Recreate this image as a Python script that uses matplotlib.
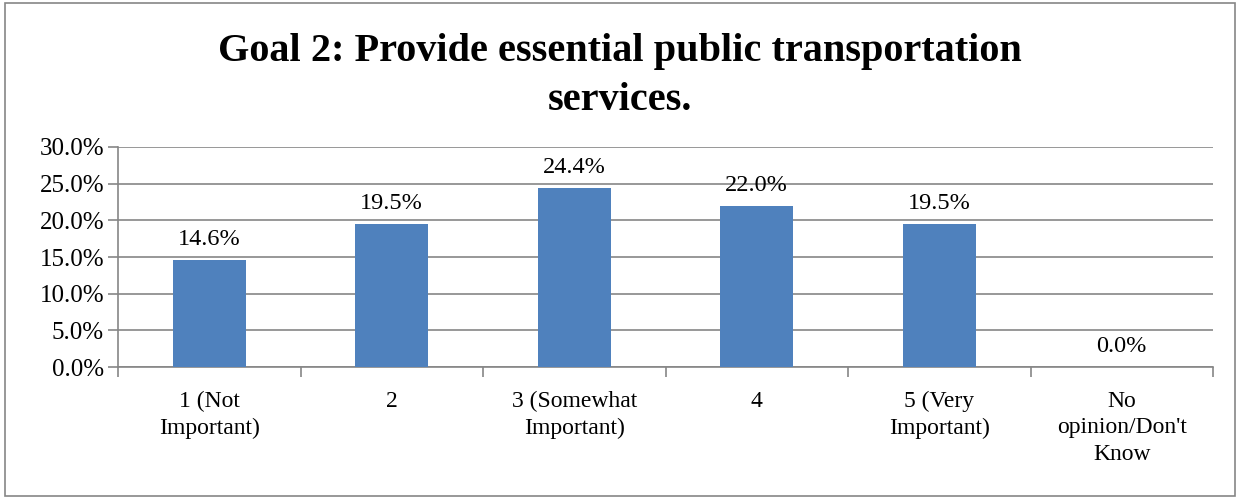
import matplotlib.pyplot as plt
from matplotlib.patches import Rectangle

categories = ["1 (Not\nImportant)", "2", "3 (Somewhat\nImportant)", "4",
              "5 (Very\nImportant)", "No\nopinion/Don't\nKnow"]
values = [14.6, 19.5, 24.4, 22.0, 19.5, 0.0]
yticks = [0, 5, 10, 15, 20, 25, 30]

plt.rcParams['font.family'] = ['Liberation Serif', 'DejaVu Serif']

fig = plt.figure(figsize=(12.39, 4.98), dpi=100)
ax = fig.add_axes([118 / 1239, 1 - 367 / 498, (1213 - 118) / 1239, 220 / 498])

x = list(range(len(values)))
ax.bar(x, values, width=0.4, color="#4f81bd", zorder=3)
for xi, v in zip(x, values):
    ax.annotate(f"{v:.1f}%", (xi, v), xytext=(0, 7), textcoords="offset points",
                ha="center", va="bottom", fontsize=17.5)

ax.set_xlim(-0.5, len(values) - 0.5)
ax.set_ylim(0, 30)
ax.set_yticks(yticks)
ax.set_yticklabels([f"{t:.1f}%" for t in yticks], fontsize=18)
ax.grid(axis="y", color="#868686", linewidth=1.2, zorder=0)
ax.tick_params(axis="y", length=7, color="#868686", width=1.2, pad=3)

ax.set_xticks([i - 0.5 for i in range(len(values) + 1)])
ax.set_xticklabels([])
ax.tick_params(axis="x", length=7, color="#868686", width=1.2)
for xi, lab in zip(x, categories):
    ax.text(xi, -3.3, lab, ha="center", va="top", fontsize=17, linespacing=1.33)

for side in ["top", "right"]:
    ax.spines[side].set_visible(False)
for side in ["left", "bottom"]:
    ax.spines[side].set_color("#868686")
    ax.spines[side].set_linewidth(1.2)

fig.text(0.5, 1 - 76 / 498, "Goal 2: Provide essential public transportation\nservices.",
         ha="center", va="center", fontsize=29, fontweight="bold", linespacing=1.45)

fig.patches.append(Rectangle((5 / 1239, 2 / 498), 1230 / 1239, 493 / 498,
                             transform=fig.transFigure, fill=False,
                             edgecolor="#868686", linewidth=1.2))

fig.savefig("out.png", dpi=100)
